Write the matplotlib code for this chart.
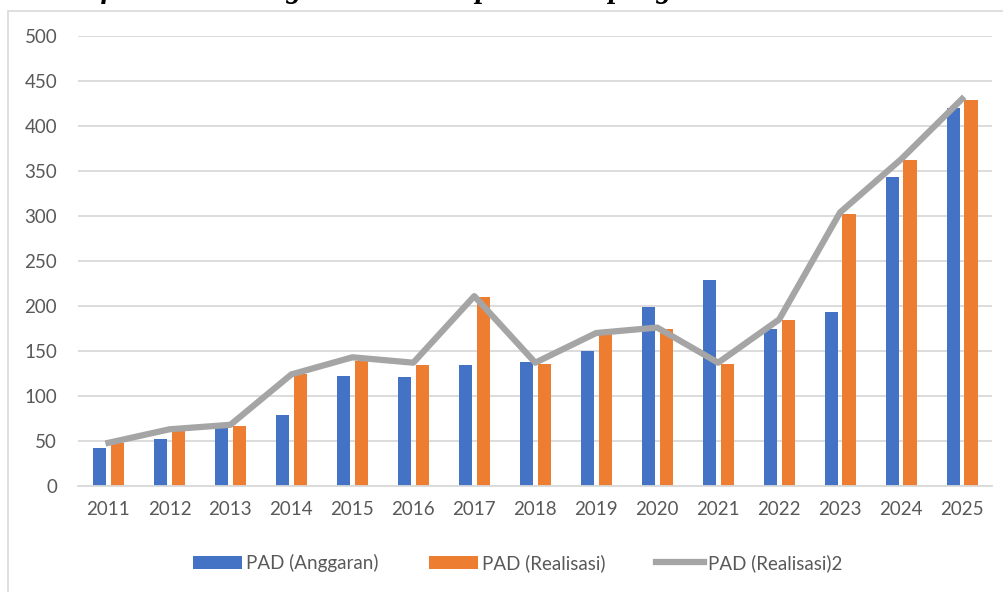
import matplotlib.pyplot as plt
from matplotlib.patches import Rectangle
import numpy as np

years = ['2011', '2012', '2013', '2014', '2015', '2016', '2017', '2018',
         '2019', '2020', '2021', '2022', '2023', '2024', '2025']
anggaran = [42, 52, 64, 79, 122, 121, 134, 138, 150, 199, 229, 174, 193, 343, 420]
realisasi = [48, 61, 67, 124, 139, 135, 210, 136, 169, 175, 136, 184, 302, 362, 429]
realisasi2 = [48, 63, 68, 124, 143, 137, 211, 137, 170, 176, 137, 185, 304, 363, 430]

BLUE = '#4472c4'
ORANGE = '#ed7d31'
GRAY = '#a5a5a5'
TXT = '#595959'

plt.rcParams['font.family'] = ['Lato', 'DejaVu Sans']

W, H = 1004, 592
fig = plt.figure(figsize=(W / 100, H / 100), dpi=100)

# chart frame (extends past right / bottom edge)
fig.patches.append(Rectangle((8.5 / W, -0.1), 1.2, 1 - 10.5 / H + 0.1,
                             transform=fig.transFigure, fill=False,
                             edgecolor='#d9d9d9', linewidth=1.2))

# title, mostly cut off by the top edge as in the source image
fig.text(672 / W, 1 + 2.5 / H, 'Grafik Perkembangan PAD Kabupaten Sampang',
         fontsize=22, fontweight='bold', fontstyle='italic',
         family=['Liberation Serif', 'DejaVu Serif'], ha='right', va='baseline',
         color='black')

ax = fig.add_axes([78 / W, 1 - 486 / H, (992.5 - 78) / W, 450 / H])
x = np.arange(len(years))
bw = 0.215
off = 0.147
b1 = ax.bar(x - off, anggaran, bw, color=BLUE, label='PAD (Anggaran)', zorder=2)
b2 = ax.bar(x + off, realisasi, bw, color=ORANGE, label='PAD (Realisasi)', zorder=2)
l1, = ax.plot(x, realisasi2, color=GRAY, linewidth=4.5, label='PAD (Realisasi)2',
              zorder=3)

ax.set_xlim(-0.5, len(years) - 0.5)
ax.set_ylim(0, 500)
ax.set_yticks(range(0, 501, 50))
ax.set_xticks(x)
ax.set_xticklabels(years)
ax.grid(axis='y', color='#d9d9d9', linewidth=1.3, zorder=0)
ax.set_axisbelow(True)
for s in ['top', 'right', 'left']:
    ax.spines[s].set_visible(False)
ax.spines['bottom'].set_color('#d9d9d9')
ax.spines['bottom'].set_linewidth(1.3)
ax.tick_params(axis='both', length=0, labelsize=13.5, labelcolor=TXT)
ax.tick_params(axis='y', pad=15)
ax.tick_params(axis='x', pad=11)

leg = fig.legend([b1, b2, l1], ['PAD (Anggaran)', 'PAD (Realisasi)', 'PAD (Realisasi)2'],
                 loc='center', bbox_to_anchor=(518 / W, 1 - 563 / H), ncol=3,
                 frameon=False, fontsize=13.5, handlelength=2.6,
                 handleheight=0.75, handletextpad=0.2, columnspacing=2.7)
for t in leg.get_texts():
    t.set_color(TXT)

fig.savefig('out.png', dpi=100)
